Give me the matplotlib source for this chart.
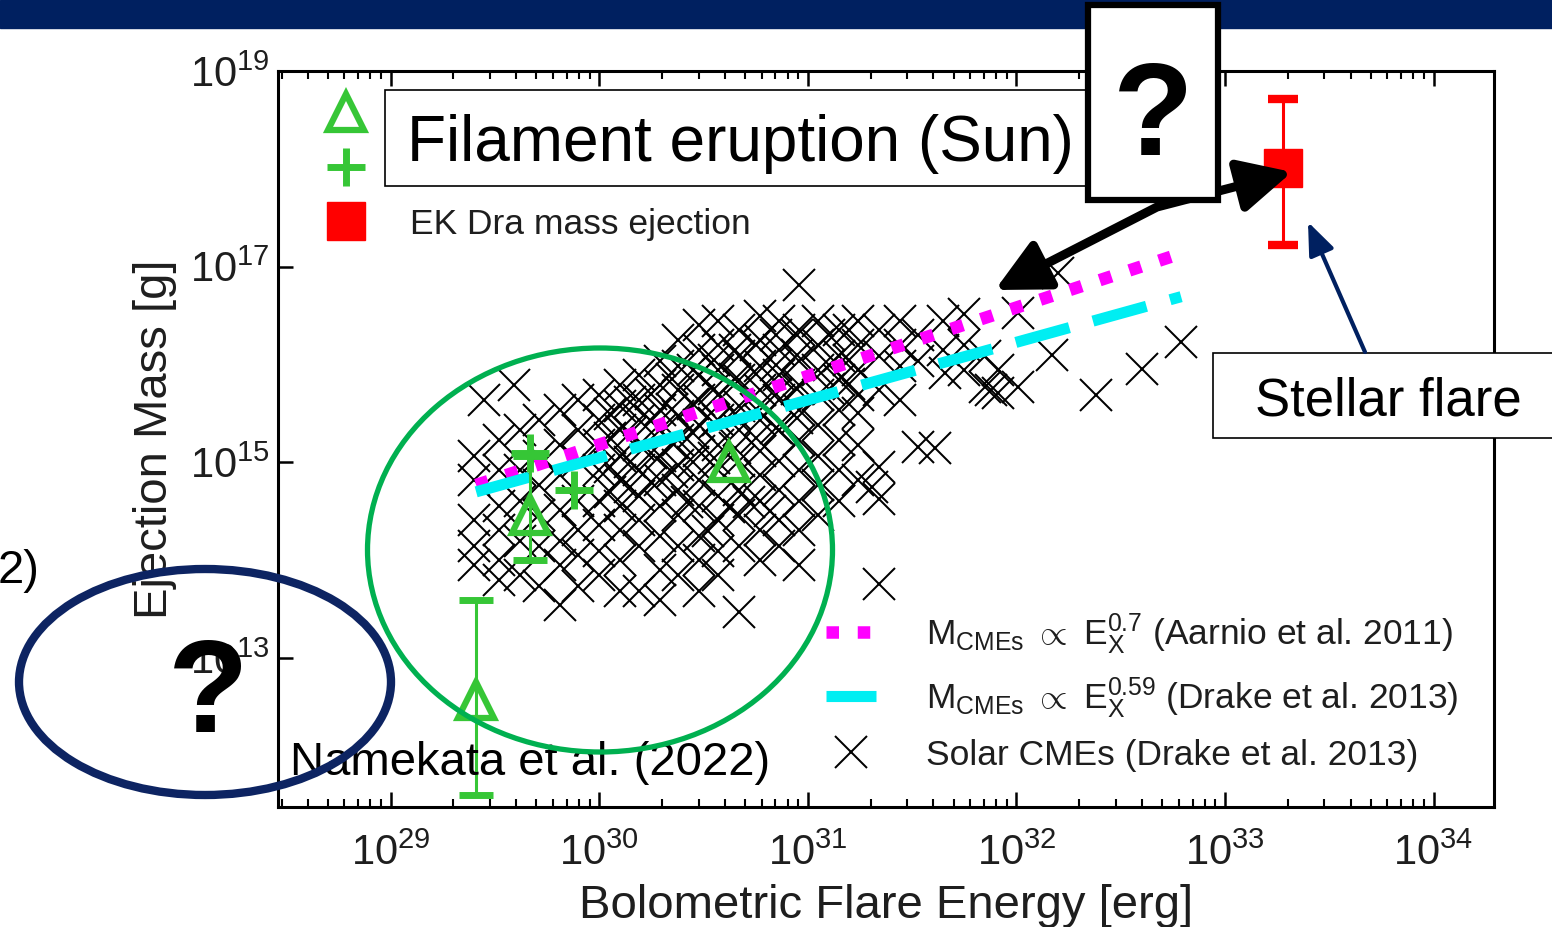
import numpy as np
import matplotlib.pyplot as plt
from matplotlib.patches import Ellipse, Rectangle, FancyArrowPatch
from matplotlib.path import Path
from matplotlib.lines import Line2D
from matplotlib.ticker import FixedLocator, FuncFormatter, LogLocator, NullFormatter, NullLocator

plt.rcParams['font.family'] = ['Liberation Sans', 'DejaVu Sans']
plt.rcParams['mathtext.fontset'] = 'custom'
plt.rcParams['mathtext.rm'] = 'Liberation Sans'
plt.rcParams['mathtext.it'] = 'Liberation Sans:italic'
plt.rcParams['mathtext.bf'] = 'Liberation Sans:bold'

# solar CMEs (Drake et al. 2013), log10 energy [erg], log10 mass [g]
solar_cmes = [
    (29.40, 15.07), (29.40, 14.82), (29.40, 14.41), (29.40, 14.15), (29.40, 13.95),
    (29.45, 15.64), (29.59, 15.79),
    (29.52, 15.23), (29.52, 14.92), (29.52, 14.56), (29.52, 14.31), (29.52, 14.00), (29.52, 13.80),
    (29.62, 15.33), (29.62, 14.92), (29.62, 14.61), (29.62, 14.20), (29.62, 13.85),
    (29.71, 15.43), (29.71, 15.07), (29.71, 14.77), (29.71, 14.46), (29.71, 14.15), (29.71, 13.74),
    (29.81, 15.54), (29.81, 15.18), (29.81, 14.87), (29.81, 14.51), (29.81, 14.20), (29.81, 13.95), (29.81, 13.54),
    (29.90, 15.64), (29.90, 15.33), (29.90, 15.02), (29.90, 14.61), (29.90, 14.31), (29.90, 14.05), (29.90, 13.74),
    (30.00, 15.69), (30.00, 15.43), (30.00, 15.18), (30.00, 14.92), (30.00, 14.61), (30.00, 14.36), (30.00, 14.10), (30.00, 13.85),
    (30.10, 15.79), (30.10, 15.58), (30.10, 15.33), (30.10, 15.07), (30.10, 14.82), (30.10, 14.56), (30.10, 14.31), (30.10, 14.00), (30.10, 13.69),
    (30.19, 15.89), (30.19, 15.64), (30.19, 15.43), (30.19, 15.18), (30.19, 14.92), (30.19, 14.66), (30.19, 14.41), (30.19, 14.15), (30.19, 13.69),
    (30.29, 16.04), (30.29, 15.79), (30.29, 15.54), (30.29, 15.33), (30.29, 15.07), (30.29, 14.82), (30.29, 14.56), (30.29, 14.25), (30.29, 13.90), (30.29, 13.59),
    (30.38, 16.25), (30.38, 15.99), (30.38, 15.74), (30.38, 15.48), (30.38, 15.23), (30.38, 14.97), (30.38, 14.72), (30.38, 14.46), (30.38, 14.15), (30.38, 13.85),
    (30.48, 16.40), (30.48, 16.15), (30.48, 15.89), (30.48, 15.64), (30.48, 15.38), (30.48, 15.12), (30.48, 14.82), (30.48, 14.56), (30.48, 14.25), (30.48, 14.00), (30.48, 13.69),
    (30.57, 16.45), (30.57, 16.20), (30.57, 15.94), (30.57, 15.69), (30.57, 15.43), (30.57, 15.18), (30.57, 14.92), (30.57, 14.66), (30.57, 14.41), (30.57, 14.10), (30.57, 13.85),
    (30.67, 16.35), (30.67, 16.09), (30.67, 15.84), (30.67, 15.58), (30.67, 15.33), (30.67, 15.02), (30.67, 14.72), (30.67, 14.46), (30.67, 14.15), (30.67, 13.47),
    (30.77, 16.50), (30.77, 16.25), (30.77, 15.99), (30.77, 15.74), (30.77, 15.43), (30.77, 15.12), (30.77, 14.87), (30.77, 14.61), (30.77, 14.31), (30.77, 14.00),
    (30.86, 16.45), (30.86, 16.15), (30.86, 15.89), (30.86, 15.64), (30.86, 15.33), (30.86, 15.02), (30.86, 14.72), (30.86, 14.41), (30.86, 14.15),
    (30.96, 16.81), (30.96, 16.35), (30.96, 16.04), (30.96, 15.79), (30.96, 15.54), (30.96, 15.23), (30.96, 14.92), (30.96, 14.61), (30.96, 14.31), (30.96, 13.95),
    (31.05, 16.45), (31.05, 16.20), (31.05, 15.94), (31.05, 15.69), (31.05, 15.38), (31.05, 15.07), (31.05, 14.77), (31.05, 14.46),
    (31.15, 16.35), (31.15, 16.09), (31.15, 15.84), (31.15, 15.54), (31.15, 15.23), (31.15, 14.92), (31.15, 14.61),
    (31.24, 16.45), (31.24, 16.20), (31.24, 15.94), (31.24, 15.69), (31.24, 15.51), (31.24, 15.18), (31.24, 14.82),
    (31.31, 14.75),
    (31.34, 16.35), (31.34, 16.09), (31.34, 15.74), (31.34, 14.95), (31.34, 14.63), (31.34, 13.76),
    (31.44, 16.45), (31.44, 16.20), (31.44, 15.99), (31.44, 15.64),
    (31.53, 16.30), (31.53, 16.04), (31.53, 15.16),
    (31.61, 15.15), (31.66, 15.91), (31.65, 16.45), (31.65, 16.15),
    (31.75, 16.52), (31.75, 16.20), (31.75, 15.94),
    (31.85, 15.77), (31.85, 16.09), (31.88, 15.74), (31.91, 15.71), (31.91, 15.94),
    (32.01, 15.77), (32.01, 16.53),
    (32.17, 16.10), (32.20, 16.94), (32.38, 15.69), (32.60, 15.96), (32.79, 16.23),
    # dense core along the fits
    (30.05, 15.50), (30.05, 15.25), (30.05, 14.95), (30.05, 14.70),
    (30.15, 15.62), (30.15, 15.30), (30.15, 15.00), (30.15, 14.75),
    (30.25, 15.70), (30.25, 15.42), (30.25, 15.10), (30.25, 14.80),
    (30.35, 15.85), (30.35, 15.55), (30.35, 15.20), (30.35, 14.90),
    (30.45, 15.95), (30.45, 15.60), (30.45, 15.30), (30.45, 15.00),
    (30.55, 16.05), (30.55, 15.75), (30.55, 15.40), (30.55, 15.05),
    (30.65, 16.15), (30.65, 15.85), (30.65, 15.50), (30.65, 15.15),
    (30.75, 16.20), (30.75, 15.90), (30.75, 15.55), (30.75, 15.25),
    (30.85, 16.30), (30.85, 16.00), (30.85, 15.70), (30.85, 15.35),
    (30.95, 16.30), (30.95, 16.10), (30.95, 15.75), (30.95, 15.45),
    (31.10, 16.30), (31.10, 16.00), (31.10, 15.75),
    (31.20, 16.35), (31.20, 16.05), (31.20, 15.80),
    (30.62, 14.55), (30.72, 14.60), (30.82, 14.50), (30.52, 14.30), (30.42, 14.60),
]

# solar filament eruptions (triangles) and prominence eruptions (plus)
tri_logE = [29.41, 29.67, 30.62]
tri_logM = [12.57, 14.46, 15.00]
tri_err_lo = [11.60, 14.00]
tri_err_hi = [13.59, 15.07]
plus_logE = [29.67, 29.88]
plus_logM = [15.10, 14.72]

# EK Dra
ekdra_logE = 33.28
ekdra_logM = 18.01
ekdra_lo, ekdra_hi = 17.22, 18.71

# power-law fits: log M = log A + slope * log E
aarnio_slope, aarnio_logA = 0.7, -5.817
drake_slope, drake_logA = 0.59, -2.652
aarnio_range = [29.41, 32.75]
drake_range = [29.41, 32.79]

green = '#36c636'
navy = '#002060'
txt = '#1e1e1e'

W, H = 1552, 927
def fx(px):
    return px / W
def fy(py):
    return 1 - py / H

fig = plt.figure(figsize=(W / 100, H / 100), dpi=100)
ax = fig.add_axes([fx(278), fy(807), (1494 - 278) / W, (807 - 71) / H])
ax.set_xscale('log')
ax.set_yscale('log')
ax.set_xlim(10 ** 28.46, 10 ** 34.29)
ax.set_ylim(10 ** 11.48, 10 ** 19)

cme = np.array(solar_cmes)
ax.plot(10 ** cme[:, 0], 10 ** cme[:, 1], ls='none', marker='x', ms=23, mew=1.45, color='black', zorder=2)

e = np.linspace(*aarnio_range, 50)
ax.plot(10 ** e, 10 ** (aarnio_logA + aarnio_slope * e), color='#ff00ff', lw=9,
        ls=(0, (1, 1.5)), dash_capstyle='butt', zorder=3)
e = np.linspace(*drake_range, 50)
ax.plot(10 ** e, 10 ** (drake_logA + drake_slope * e), color='#00eef2', lw=8,
        ls=(0, (5, 2.2)), dash_capstyle='butt', zorder=3)

# filament eruptions
te = 10 ** np.array(tri_logE[:2])
tm = 10 ** np.array(tri_logM[:2])
ax.errorbar(te, tm, yerr=[tm - 10 ** np.array(tri_err_lo), 10 ** np.array(tri_err_hi) - tm],
            fmt='none', ecolor=green, elinewidth=2.2, capsize=12, capthick=5, zorder=4)
ax.plot(10 ** np.array(tri_logE), 10 ** np.array(tri_logM), ls='none', marker='^', ms=26,
        mfc='none', mec=green, mew=4.5, zorder=5)
ax.plot(10 ** np.array(plus_logE), 10 ** np.array(plus_logM), ls='none', marker='+', ms=28,
        mec=green, mew=5, zorder=5)

# EK Dra
em = 10 ** ekdra_logM
ax.errorbar([10 ** ekdra_logE], [em], yerr=[[em - 10 ** ekdra_lo], [10 ** ekdra_hi - em]],
            fmt='s', color='red', ms=27, elinewidth=2.2, capsize=11, capthick=6, zorder=5)

# axes styling
ax.xaxis.set_major_locator(FixedLocator([10.0 ** k for k in range(29, 35)]))
ax.xaxis.set_minor_locator(LogLocator(base=10, subs=np.arange(2, 10), numticks=30))
ax.xaxis.set_minor_formatter(NullFormatter())
ax.yaxis.set_major_locator(FixedLocator([10.0 ** k for k in (13, 15, 17, 19)]))
ax.yaxis.set_minor_locator(NullLocator())
fmt = FuncFormatter(lambda v, p: r'$\mathregular{10^{%d}}$' % round(np.log10(v)))
ax.xaxis.set_major_formatter(fmt)
ax.yaxis.set_major_formatter(fmt)
ax.tick_params(axis='x', which='both', direction='in', top=True, bottom=True, colors='black',
               labelcolor=txt, labelsize=30, pad=19)
ax.tick_params(axis='x', which='major', length=11, width=1.8)
ax.tick_params(axis='x', which='minor', length=6, width=1.5)
ax.tick_params(axis='y', which='major', direction='in', left=True, right=False, length=11,
               width=1.8, labelcolor=txt, labelsize=30, pad=6)
for s in ax.spines.values():
    s.set_linewidth(2.2)
ax.set_xlabel('Bolometric Flare Energy [erg]', fontsize=34, color=txt)
ax.set_ylabel('Ejection Mass [g]', fontsize=34, color=txt)
ax.xaxis.set_label_coords(0.5, -0.104)
ax.yaxis.set_label_coords(-0.083, 0.5)

# legends
h_tri = Line2D([], [], ls='none', marker='^', ms=26, mfc='none', mec=green, mew=4.5)
h_plus = Line2D([], [], ls='none', marker='+', ms=28, mec=green, mew=5)
h_sq = Line2D([], [], ls='none', marker='s', ms=27, color='red')
leg1 = ax.legend([h_tri, h_plus, h_sq], [' ', ' ', 'EK Dra mass ejection'], loc='upper left',
                 bbox_to_anchor=(0.0255, 0.985), fontsize=25.5, frameon=False,
                 handlelength=1.2, handletextpad=1.2, labelspacing=0.62, borderaxespad=0,
                 borderpad=0.45, labelcolor=txt)
ax.add_artist(leg1)

h_mag = Line2D([], [], color='#ff00ff', lw=9, ls=(0, (1, 1.5)), dash_capstyle='butt')
h_cy = Line2D([], [], color='#00eef2', lw=8, ls=(0, (5, 2.2)), dash_capstyle='butt')
h_x = Line2D([], [], ls='none', marker='x', ms=23, mew=1.45, color='black')
labels2 = [r'M$_{\rm CMEs}$ $\propto$ E$_{\rm X}^{0.7}$ (Aarnio et al. 2011)',
           r'M$_{\rm CMEs}$ $\propto$ E$_{\rm X}^{0.59}$ (Drake et al. 2013)',
           'Solar CMEs (Drake et al. 2013)']
ax.legend([h_mag, h_cy, h_x], labels2, loc='lower right', fontsize=25.5, frameon=False,
          handlelength=1.41, handletextpad=1.41, labelspacing=0.5, borderaxespad=0.5,
          borderpad=0.5, labelcolor=txt)

# slide decorations
tf = fig.transFigure
fig.add_artist(Rectangle((0, fy(28)), 1, 28 / H, transform=tf, color=navy, zorder=1))

fig.add_artist(Rectangle((fx(385), fy(186)), (1090 - 385) / W, (186 - 90) / H, transform=tf,
                         fc='white', ec='black', lw=1.2, zorder=5))
fig.text(fx(407), fy(161), 'Filament eruption (Sun)', fontsize=46, color='black',
         ha='left', va='baseline', zorder=6)

fig.add_artist(FancyArrowPatch(path=Path([(fx(995), fy(290)), (fx(1157), fy(207)), (fx(1292), fy(172))]),
                               arrowstyle='<|-|>,head_length=32,head_width=16', lw=6.5,
                               color='black', transform=tf, zorder=6))

fig.add_artist(Rectangle((fx(1088), fy(200)), 130 / W, 195 / H, transform=tf,
                         fc='white', ec='black', lw=4.5, zorder=7))
fig.text(fx(1153), fy(155), '?', fontsize=95, fontweight='bold', color='black',
         ha='center', va='baseline', zorder=8)

fig.add_artist(FancyArrowPatch((fx(1365), fy(352)), (fx(1308), fy(222)),
                               arrowstyle='-|>,head_length=20,head_width=8', lw=3,
                               color=navy, transform=tf, shrinkA=0, shrinkB=0, zorder=6))
fig.add_artist(Rectangle((fx(1213), fy(438)), 400 / W, 85 / H, transform=tf,
                         fc='white', ec='black', lw=1.2, zorder=5))
fig.text(fx(1388), fy(415), 'Stellar flare', fontsize=38, color='black',
         ha='center', va='baseline', zorder=6)

fig.text(fx(290), fy(775), 'Namekata et al. (2022)', fontsize=34, color='black',
         ha='left', va='baseline', zorder=3)
fig.text(fx(-2), fy(583), '2)', fontsize=34, color='black', ha='left', va='baseline', zorder=3)

fig.add_artist(Ellipse((fx(600), fy(550)), 465 / W, 404 / H, transform=tf, fill=False,
                       ec='#00b050', lw=3.8, zorder=4))
fig.add_artist(Ellipse((fx(205), fy(682)), 372 / W, 226 / H, transform=tf, fill=False,
                       ec='#0d2462', lw=6, zorder=4))
fig.text(fx(208), fy(732), '?', fontsize=95, fontweight='bold', color='black',
         ha='center', va='baseline', zorder=8)

fig.savefig('out.png', dpi=100)
